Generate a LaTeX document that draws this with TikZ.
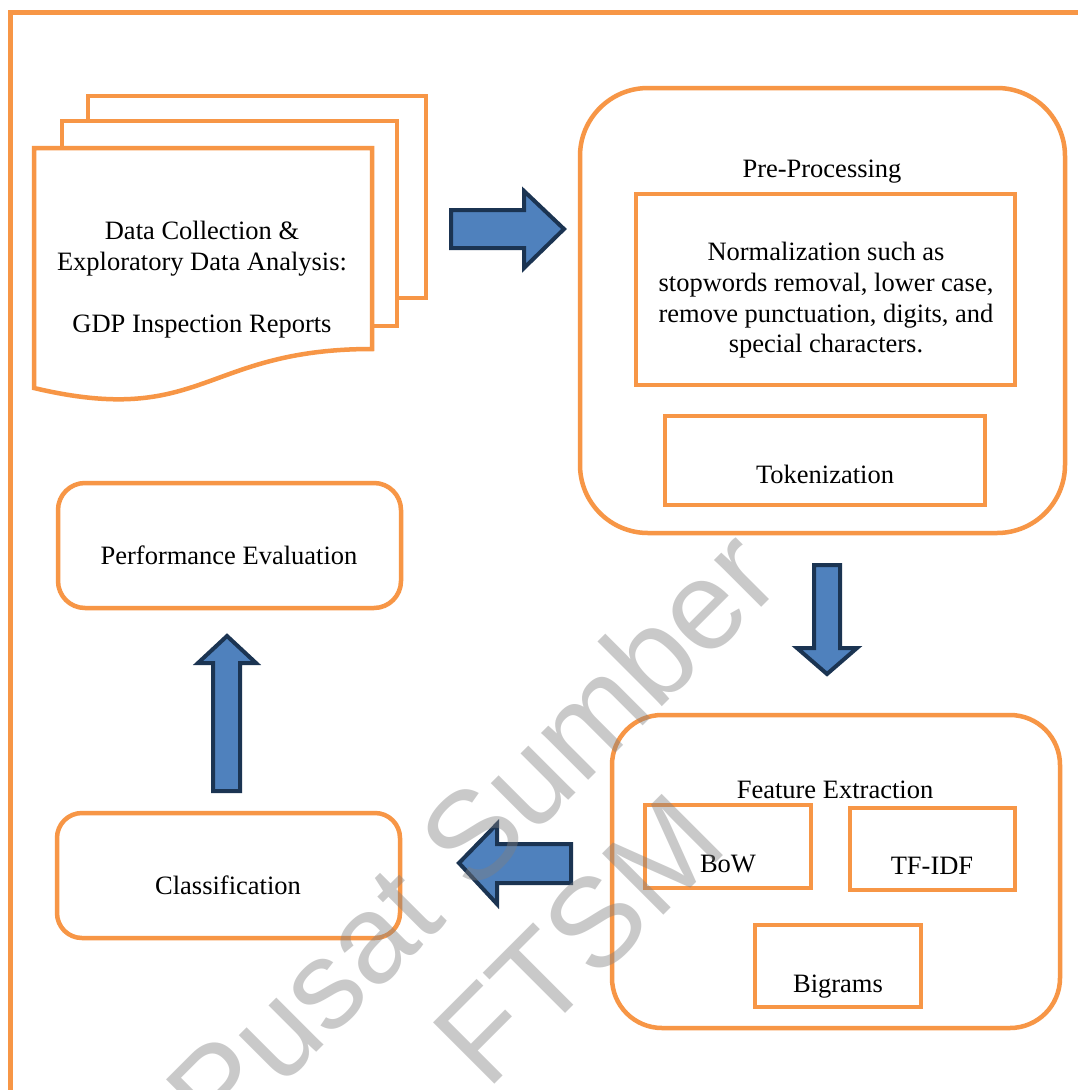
\documentclass[tikz,border=0pt]{standalone}
\usepackage{fontspec}
\setmainfont{Liberation Serif}
\newfontfamily\serf{Liberation Serif}
\newfontfamily\wmfont{Liberation Sans}
\definecolor{orng}{HTML}{F79646}
\definecolor{ablue}{HTML}{4F81BD}
\definecolor{anavy}{HTML}{1B3452}
\begin{document}
\begin{tikzpicture}[x=1pt,y=-1pt,
  obox/.style={draw=orng, line width=4.5pt, fill=white, inner sep=0pt, line join=miter},
  rbox/.style={obox, rounded corners=#1},
  lbl/.style={font=\serf\fontsize{26.5}{31}\selectfont, anchor=base, inner sep=0pt},
  barrow/.style={draw=anavy, fill=ablue, line width=4pt, line join=miter},
  wm/.style={font=\wmfont\fontsize{126}{126}\selectfont, text=gray, text opacity=0.42, rotate=45, anchor=base, inner sep=0pt}]
\fill[white] (0,0) rectangle (1077,1090);
\useasboundingbox (0,0) rectangle (1077,1090);
% outer frame (top and left edges)
\draw[orng, line width=5pt] (10,1100) -- (10,12) -- (1090,12);
% document stack
\draw[obox] (88,96) rectangle (426,298);
\draw[obox] (62,121) rectangle (397,326);
\draw[obox] (34,148) -- (372,148) -- (372,349) .. controls (203,349) and (203,428) .. (34,388) -- cycle;
\node[lbl] (doc1) at (202,239) {Data Collection \&};
\node[lbl] (doc2) at (202,270) {Exploratory Data Analysis:};
\node[lbl] (doc3) at (202,332) {GDP Inspection Reports};
% pre-processing
\node[rbox=68pt, minimum width=485pt, minimum height=445pt] (pp) at (822.5,310.5) {};
\node[lbl] (pptitle) at (822,177) {Pre-Processing};
\node[obox, minimum width=379pt, minimum height=191pt] (norm) at (825.5,289.5) {};
\node[lbl] (n1) at (826,260) {Normalization such as};
\node[lbl] (n2) at (826,291) {stopwords removal, lower case,};
\node[lbl] (n3) at (826,322) {remove punctuation, digits, and};
\node[lbl] (n4) at (826,352) {special characters.};
\node[obox, minimum width=320pt, minimum height=89pt] (tok) at (825,460.5) {};
\node[lbl] (toktxt) at (825,483) {Tokenization};
% feature extraction
\node[rbox=50pt, minimum width=448pt, minimum height=313pt] (fe) at (836,871.5) {};
\node[lbl] (fetitle) at (835,798) {Feature Extraction};
\node[obox, minimum width=166pt, minimum height=83pt] (bow) at (728,846.5) {};
\node[lbl] (bowtxt) at (728,872) {BoW};
\node[obox, minimum width=165pt, minimum height=82pt] (tfidf) at (932.5,849) {};
\node[lbl] (tfidftxt) at (932,874) {TF-IDF};
\node[obox, minimum width=166pt, minimum height=82pt] (big) at (838,966) {};
\node[lbl] (bigtxt) at (838,992) {Bigrams};
% classification and performance
\node[rbox=25pt, minimum width=343pt, minimum height=125pt] (cls) at (228.5,875.5) {};
\node[lbl] (clstxt) at (228,894) {Classification};
\node[rbox=27pt, minimum width=343pt, minimum height=125pt] (pe) at (229.5,545.5) {};
\node[lbl] (petxt) at (229,564) {Performance Evaluation};
% block arrows
\draw[barrow] (451,210) -- (524,210) -- (524,191) -- (564,229) -- (524,268) -- (524,248) -- (451,248) -- cycle;
\draw[barrow] (814,565) -- (840,565) -- (840,648) -- (857,648) -- (827,674) -- (797,648) -- (814,648) -- cycle;
\draw[barrow] (571,844) -- (497,844) -- (497,824) -- (459,863) -- (497,904) -- (497,883) -- (571,883) -- cycle;
\draw[barrow] (213,791) -- (213,663) -- (198,663) -- (227,636) -- (256,663) -- (240,663) -- (240,791) -- cycle;
% watermark
\node[wm] (wm1) at (503,866) {Pusat Sumber};
\node[wm] (wm2) at (609,970) {FTSM};
\end{tikzpicture}
\end{document}
